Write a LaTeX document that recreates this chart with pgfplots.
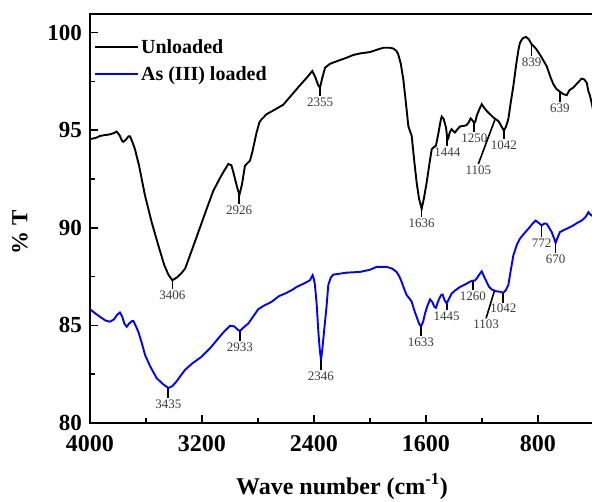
\documentclass[border=0pt]{standalone}
\usepackage{pgfplots}
\pgfplotsset{compat=1.18}
\usepackage{fontspec}
\setmainfont{Liberation Serif}
\definecolor{lbl}{RGB}{60,60,60}
\newcommand{\pk}[5]{\draw[line width=1.6pt,black] (axis cs:#1,#2) -- (axis cs:#3,#4) node[below,inner sep=1pt,text=lbl,font=\fontsize{13}{13}\selectfont] {#5};}
\begin{document}
\begin{tikzpicture}
\begin{axis}[
  at={(0,0)}, anchor=south west,
  scale only axis, width=504pt, height=409pt,
  x dir=reverse, xmin=400, xmax=4000, ymin=80, ymax=100.95,
  xtick={800,1600,2400,3200,4000}, ytick={80,85,90,95,100},
  minor x tick num=1, minor y tick num=1,
  tick align=inside, major tick length=8pt, minor tick length=5pt,
  xtick pos=bottom, ytick pos=left,
  axis line style={line width=1.5pt}, every tick/.style={line width=1.5pt,black},
  /pgf/number format/assume math mode=true,
  /pgf/number format/1000 sep={},
  xticklabel style={font=\bfseries\fontsize{24}{24}\selectfont, inner sep=0pt, yshift=-12pt},
  yticklabel style={font=\bfseries\fontsize{23}{23}\selectfont, inner sep=0pt, xshift=-8pt},
  xlabel={Wave number (cm\textsuperscript{-1})},
  ylabel={\% T},
  xlabel style={font=\bfseries\fontsize{24}{24}\selectfont, at={(axis description cs:0.5,0)}, anchor=base, yshift=-71pt},
  ylabel style={font=\bfseries\fontsize{23}{23}\selectfont, at={([xshift=-70pt]axis description cs:0,0.467)}, anchor=center},
  legend style={draw=none, fill=none, at={(rel axis cs:0,1)}, anchor=north west, xshift=4pt, yshift=-23pt,
    font=\bfseries\fontsize{20}{20}\selectfont, row sep=8pt, inner sep=0pt},
  legend cell align=left,
  legend image code/.code={\draw[#1] (0pt,0pt) -- (43pt,0pt);},
]
\addplot[black, line width=1.9pt] table {
4000 94.54
3960 94.6
3930 94.7
3893 94.75
3860 94.78
3830 94.85
3810 94.93
3790 94.75
3770 94.45
3762 94.4
3745 94.5
3725 94.68
3714 94.68
3700 94.45
3679 94.03
3650 93.2
3607 91.65
3560 90.3
3512 89.1
3470 88.1
3440 87.6
3412 87.31
3380 87.45
3350 87.65
3321 87.9
3280 88.7
3226 89.78
3170 90.9
3119 91.9
3060 92.7
3012 93.27
2990 93.2
2976 92.84
2950 92.1
2933 91.68
2915 92.2
2893 93.18
2857 93.44
2840 93.9
2810 94.88
2790 95.4
2774 95.56
2738 95.82
2680 96.05
2620 96.3
2560 96.8
2500 97.3
2450 97.7
2412 98.03
2390 97.7
2370 97.3
2357 97.18
2340 97.7
2321 98.2
2286 98.4
2230 98.55
2167 98.71
2120 98.85
2071 98.93
2000 99.0
1950 99.12
1905 99.22
1860 99.22
1833 99.18
1810 99.05
1798 98.88
1780 98.4
1762 97.6
1745 96.5
1726 95.2
1702 94.7
1685 93.5
1667 92.33
1650 91.5
1631 90.97
1615 91.5
1595 92.33
1575 93.3
1559 94.03
1540 94.15
1529 94.2
1510 94.9
1495 95.5
1488 95.7
1475 95.6
1457 95.14
1447 94.5
1440 94.6
1430 94.9
1417 95.05
1405 94.95
1393 94.88
1375 95.05
1357 95.19
1330 95.22
1310 95.26
1295 95.4
1281 95.6
1268 95.5
1255 95.36
1245 95.5
1238 95.73
1220 96.05
1202 96.33
1185 96.15
1167 95.99
1140 95.8
1119 95.65
1100 95.55
1083 95.47
1065 95.25
1050 95.05
1043 95.0
1030 95.15
1012 95.56
995 96.4
976 97.26
955 98.4
940 99.1
929 99.47
910 99.7
886 99.78
865 99.65
845 99.39
830 99.3
810 99.13
780 98.8
760 98.55
738 98.28
710 97.7
690 97.35
667 97.1
640 96.95
620 96.85
595 96.79
575 97.05
548 97.18
520 97.4
500 97.55
488 97.64
470 97.6
452 97.43
440 97.0
430 96.8
417 96.41
400 95.8
};
\addlegendentry{Unloaded}
\addplot[blue, line width=1.9pt] table {
4000 85.83
3960 85.6
3920 85.4
3890 85.25
3857 85.19
3830 85.3
3805 85.55
3786 85.66
3770 85.45
3755 85.1
3738 84.93
3720 85.1
3700 85.22
3690 85.22
3675 85.0
3655 84.68
3630 84.1
3607 83.49
3570 82.9
3524 82.3
3480 82.0
3440 81.79
3410 81.9
3380 82.15
3350 82.45
3321 82.72
3270 83.05
3202 83.4
3140 83.85
3083 84.34
3040 84.7
3000 84.98
2970 84.95
2945 84.78
2929 84.71
2910 84.85
2869 85.1
2830 85.5
2798 85.83
2760 86.0
2702 86.21
2650 86.5
2607 86.63
2560 86.8
2524 86.97
2470 87.15
2429 87.31
2410 87.57
2400 87.35
2393 87.06
2380 86.0
2369 84.68
2358 83.7
2350 83.23
2340 83.8
2326 84.85
2310 86.0
2298 87.06
2280 87.45
2262 87.6
2167 87.7
2071 87.74
2000 87.85
1952 88.0
1881 88.0
1840 87.9
1810 87.74
1790 87.5
1774 87.23
1755 86.85
1738 86.55
1715 86.35
1702 86.21
1685 85.8
1667 85.44
1650 85.1
1636 84.93
1620 85.2
1607 85.61
1590 86.0
1571 86.33
1555 86.2
1540 85.95
1529 85.9
1510 86.3
1492 86.55
1481 86.58
1468 86.3
1452 86.12
1440 86.3
1417 86.63
1390 86.8
1357 86.97
1320 87.1
1290 87.22
1274 87.28
1250 87.3
1238 87.4
1220 87.6
1202 87.77
1185 87.5
1167 87.23
1150 86.98
1131 86.84
1100 86.75
1070 86.72
1048 86.67
1030 86.8
1012 87.06
995 87.8
976 88.59
950 89.15
929 89.44
900 89.7
869 89.95
840 90.2
817 90.37
795 90.25
774 90.12
755 90.22
738 90.2
720 90.0
702 89.78
685 89.45
674 89.23
660 89.5
643 89.78
625 89.85
607 89.91
580 90.0
548 90.12
520 90.25
488 90.37
460 90.55
440 90.8
430 90.7
417 90.63
400 90.7
};
\addlegendentry{As (III) loaded}
% peak markers, unloaded
\pk{3412}{87.31}{3412}{86.84}{3406}
\pk{2934}{91.68}{2934}{91.22}{2926}
\pk{2357}{97.18}{2357}{96.73}{2355}
\pk{1631}{90.97}{1631}{90.56}{1636}
\pk{1448}{94.6}{1448}{94.18}{1444}
\pk{1255}{95.36}{1255}{94.9}{1250}
\pk{1107}{95.55}{1226}{93.27}{1105}
\pk{1043}{95.0}{1043}{94.54}{1042}
\pk{845}{99.39}{845}{98.79}{839}
\pk{643}{96.94}{643}{96.43}{639}
% peak markers, As loaded
\pk{3441}{81.79}{3441}{81.28}{3435}
\pk{2929}{84.71}{2929}{84.18}{2933}
\pk{2350}{83.23}{2350}{82.72}{2346}
\pk{1636}{84.93}{1636}{84.44}{1633}
\pk{1452}{86.12}{1452}{85.77}{1445}
\pk{1266}{87.28}{1266}{86.8}{1260}
\pk{1112}{86.75}{1171}{85.36}{1103}
\pk{1048}{86.67}{1048}{86.17}{1042}
\pk{774}{90.12}{774}{89.53}{772}
\pk{674}{89.23}{674}{88.72}{670}
\end{axis}
\pgfresetboundingbox
\useasboundingbox (-90pt,-78pt) rectangle (502pt,423pt);
\end{tikzpicture}
\end{document}
